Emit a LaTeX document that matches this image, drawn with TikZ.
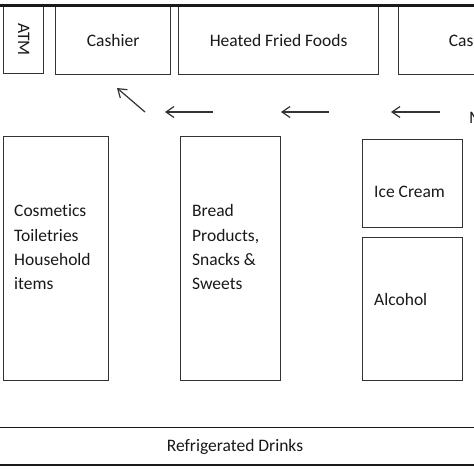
\documentclass[tikz,border=0pt]{standalone}
\usepackage{fontspec}
\setmainfont{Carlito}[Ligatures=NoCommon]
\usetikzlibrary{positioning, arrows.meta, calc}

\begin{document}
\begin{tikzpicture}[
        x=1pt, y=-1pt,
        >={Straight Barb[length=8pt, width=11pt]},
        shelf/.style={draw=black!80, line width=1.3pt, rectangle, inner sep=0pt, anchor=north west, fill=white},
        item/.style={font=\fontsize{17.5}{24.2}\selectfont, text=black!90, inner sep=0pt},
        flow/.style={->, draw=black!80, line width=1.2pt},
        wall/.style={draw=black!90},
    ]

        % Fix the size of the picture
        \clip (0,0) rectangle (474,474);
        \fill[white] (0,0) rectangle (474,474);

        % Draw the counters along the back wall
        \node[shelf, minimum width=40pt, minimum height=68pt] (atm) at (3,5) {};
        \node[item, rotate=-90] at (atm.center) {ATM};
        \node[shelf, minimum width=115pt, minimum height=69pt] (cash-1) at (55,5) {};
        \node[item] at (cash-1.center) {Cashier};
        \node[shelf, minimum width=200pt, minimum height=69pt] (hot) at (178,5) {};
        \node[item] at (hot.center) {Heated Fried Foods};
        \node[shelf, minimum width=153pt, minimum height=69pt] (cash-2) at (398,5) {};
        \node[item] at (cash-2.center) {Cashier};
        \draw[wall, line width=3pt] (-5,5) -- (480,5);

        % Draw the walking direction
        \foreach \n / \xa / \xb in {1/440/391, 2/329/281, 3/213/165}
        {
            \coordinate (s-\n) at (\xa,112);
            \coordinate (e-\n) at (\xb,112);
            \draw[flow] (s-\n) -- (e-\n);
        }
        \coordinate (s-4) at (145,112);
        \coordinate (e-4) at (117,88);
        \draw[flow] (s-4) -- (e-4);
        \node[item, anchor=base west] (door) at (469,123) {M};

        % Draw the aisles
        \node[shelf, minimum width=105pt, minimum height=244pt] (care) at (3,136) {};
        \node[item, anchor=base west, align=left] at (14,289.5) {Cosmetics\\Toiletries\\Household\\items};
        \node[shelf, minimum width=100pt, minimum height=244pt] (bread) at (180,136) {};
        \node[item, anchor=base west, align=left] at (192,289.5) {Bread\\Products,\\Snacks \&\\Sweets};
        \node[shelf, minimum width=100pt, minimum height=88pt] (ice) at (362,139) {};
        \node[item, anchor=base west] at (374,197) {Ice Cream};
        \node[shelf, minimum width=100pt, minimum height=143pt] (drink) at (362,237) {};
        \node[item, anchor=base west] at (374,305) {Alcohol};

        % Draw the fridges along the front
        \node[item, minimum width=490pt, minimum height=37pt] (fridge) at (235,446.5) {Refrigerated Drinks};
        \draw[wall, line width=1.3pt] (fridge.north west) -- (fridge.north east);
        \draw[wall, line width=2.5pt] (fridge.south west) -- (fridge.south east);
\end{tikzpicture}
\end{document}
